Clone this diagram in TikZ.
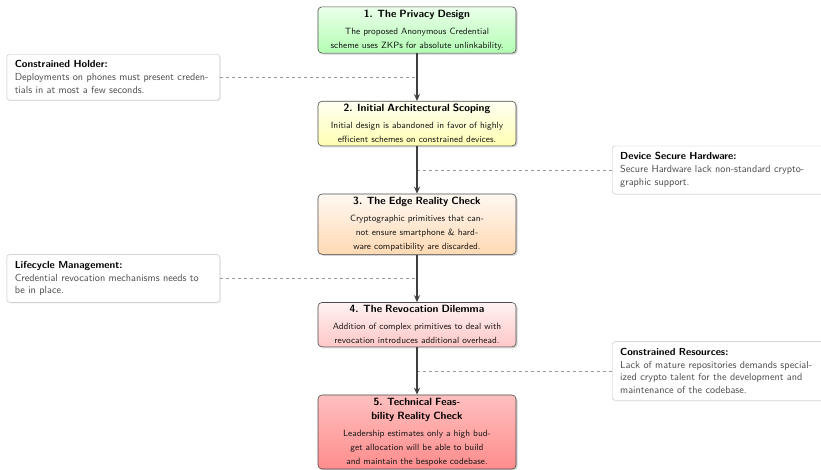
\documentclass[tikz,border=0pt]{standalone}
\usepackage{tikz}
\usetikzlibrary{positioning, calc, arrows.meta, shadows}
\renewcommand{\familydefault}{\sfdefault}

\newcommand{\stagetitle}[1]{{\fontsize{10.5}{14}\selectfont\bfseries\color{black}#1}}
\newcommand{\notetitle}[1]{{\bfseries\color{black}#1}}

\begin{document}
\begin{tikzpicture}[x=1pt, y=1pt,
  node distance=47.5pt,
  stage/.style={draw=black!70, line width=0.6pt, rounded corners=4pt,
    text width=184pt, align=center, inner xsep=7pt, inner ysep=3pt,
    font=\fontsize{9.1}{14}\selectfont, text=black!90,
    drop shadow={opacity=0.35, shadow xshift=1.5pt, shadow yshift=-1.5pt}},
  note/.style={draw=black!25, fill=white, rounded corners=3pt,
    text width=197pt, align=left, inner xsep=8pt, inner ysep=6.5pt,
    font=\fontsize{10.2}{12.8}\selectfont, text=black!70,
    drop shadow={opacity=0.15, shadow xshift=1pt, shadow yshift=-1pt}},
  flow/.style={-{Stealth[length=7pt, width=6pt]}, line width=1.4pt, black!75},
  link/.style={dashed, black!40, line width=0.5pt}]

  \useasboundingbox (0,0) rectangle (821,-470);

  \node[stage, top color=green!8, bottom color=green!30] (design) at (417,-30)
    {\stagetitle{1. The Privacy Design}\\[3pt]
     The proposed Anonymous Credential\\
     scheme uses ZKPs for absolute unlinkability.};
  \node[stage, top color=yellow!5, bottom color=yellow!30, below=of design] (scoping)
    {\stagetitle{2. Initial Architectural Scoping}\\[3pt]
     Initial design is abandoned in favor of highly\\
     efficient schemes on constrained devices.};
  \node[stage, top color=orange!5, bottom color=orange!30, below=of scoping] (edge)
    {\stagetitle{3. The Edge Reality Check}\\[3pt]
     Cryptographic primitives that can-\\
     not ensure smartphone \& hard-\\
     ware compatibility are discarded.};
  \node[stage, top color=red!5, bottom color=red!22, below=of edge] (revocation)
    {\stagetitle{4. The Revocation Dilemma}\\[3pt]
     Addition of complex primitives to deal with\\
     revocation introduces additional overhead.};
  \node[stage, top color=red!25, bottom color=red!45, below=of revocation] (feasibility)
    {\stagetitle{5. Technical Feas-}\\
     \stagetitle{bility Reality Check}\\[3pt]
     Leadership estimates only a high bud-\\
     get allocation will be able to build\\
     and maintain the bespoke codebase.};

  \coordinate (m1) at ($(design.south)!0.5!(scoping.north)$);
  \coordinate (m2) at ($(scoping.south)!0.5!(edge.north)$);
  \coordinate (m3) at ($(edge.south)!0.5!(revocation.north)$);
  \coordinate (m4) at ($(revocation.south)!0.5!(feasibility.north)$);

  \node[note, left=197pt of m1] (holder)
    {\notetitle{Constrained Holder:}\\
     Deployments on phones must present creden-\\
     tials in at most a few seconds.};
  \node[note, right=195pt of m2] (hardware)
    {\notetitle{Device Secure Hardware:}\\
     Secure Hardware lack non-standard crypto-\\
     graphic support.};
  \node[note, left=197pt of m3] (lifecycle)
    {\notetitle{Lifecycle Management:}\\
     Credential revocation mechanisms needs to\\
     be in place.};
  \node[note, right=195pt of m4] (resources)
    {\notetitle{Constrained Resources:}\\
     Lack of mature repositories demands special-\\
     ized crypto talent for the development and\\
     maintenance of the codebase.};

  \draw[link] (holder.east) -- (m1);
  \draw[link] (m2) -- (hardware.west);
  \draw[link] (lifecycle.east) -- (m3);
  \draw[link] (m4) -- (resources.west);

  \draw[flow] (design) -- (scoping);
  \draw[flow] (scoping) -- (edge);
  \draw[flow] (edge) -- (revocation);
  \draw[flow] (revocation) -- (feasibility);
\end{tikzpicture}
\end{document}
